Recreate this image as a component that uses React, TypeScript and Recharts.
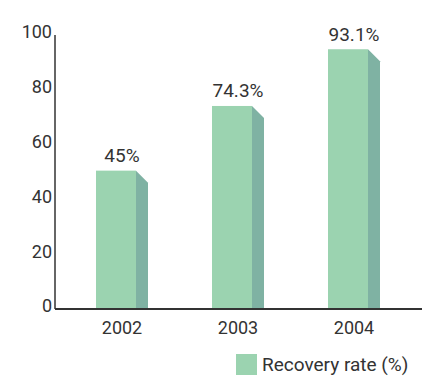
import React from 'react';
import { BarChart, Bar, XAxis, YAxis, LabelList, Legend } from 'recharts';

const years = ['2002', '2003', '2004'];
const barHeights = [50.5, 74.1, 94.8];
const valueLabels = ['45%', '74.3%', '93.1%'];
const yTicks = [0, 20, 40, 60, 80, 100];

const FRONT = '#9bd3b0';
const SIDE = '#7fb2a3';
const TEXT = '#333333';
const FONT = 'Roboto, sans-serif';
const DEPTH = 12;

const data = years.map((year, i) => ({ year, rate: barHeights[i], label: valueLabels[i] }));

// front face plus a darker slanted side, like the print version
const Bar3D = (props: any) => {
  const { x, y, width, height } = props;
  const fw = width - DEPTH;
  const side = `M${x + fw},${y} L${x + width},${y + DEPTH} L${x + width},${y + height} L${x + fw},${y + height} Z`;
  return (
    <g>
      <rect x={x} y={y} width={fw} height={height} fill={FRONT} />
      <path d={side} fill={SIDE} />
    </g>
  );
};

const ValueLabel = (props: any) => {
  const { x, y, width, value } = props;
  return (
    <text x={x + width / 2} y={y - 15} textAnchor="middle" dominantBaseline="central"
      fontSize={19} fontFamily={FONT} fill={TEXT}>
      {value}
    </text>
  );
};

const LegendBox = () => (
  <div style={{ display: 'flex', alignItems: 'center', fontFamily: FONT, fontSize: 19, color: TEXT, whiteSpace: 'nowrap' }}>
    <span style={{ width: 21, height: 21, background: FRONT, display: 'inline-block', marginRight: 5 }} />
    Recovery rate (%)
  </div>
);

export default function App() {
  return (
    <div style={{ position: 'absolute', left: 0, top: 0, width: 427, height: 376, background: '#fff' }}>
      <BarChart width={427} height={376} data={data} margin={{ top: 35, right: 5, bottom: 37, left: 0 }}>
        <XAxis dataKey="year" height={30} axisLine={{ stroke: TEXT, strokeWidth: 2 }} tickLine={false} tickSize={0} tickMargin={12}
          padding={{ left: 9, right: 10 }} tick={{ fontSize: 18, fontFamily: FONT, fill: TEXT }} />
        <YAxis domain={[0, 100]} ticks={yTicks} width={55} axisLine={{ stroke: TEXT, strokeWidth: 1.5 }} tickLine={false}
          tickSize={0} tickMargin={3} tick={{ fontSize: 18, fontFamily: FONT, fill: TEXT, dy: -3 }} />
        <Legend layout="horizontal" verticalAlign="middle" align="center" content={<LegendBox />}
          wrapperStyle={{ left: 236, top: 353, width: 'auto', bottom: 'auto', right: 'auto' }} />
        <Bar dataKey="rate" name="Recovery rate (%)" barSize={52} shape={<Bar3D />} isAnimationActive={false}>
          <LabelList dataKey="label" content={<ValueLabel />} />
        </Bar>
      </BarChart>
    </div>
  );
}
